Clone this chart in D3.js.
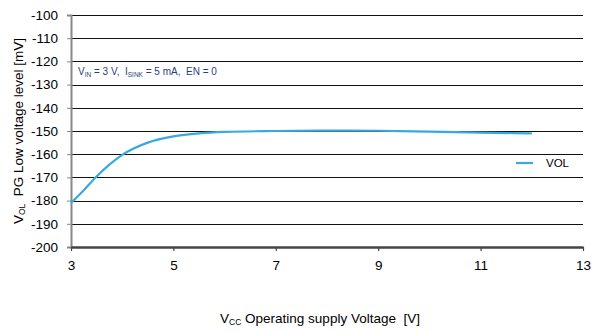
<!DOCTYPE html>
<html>
<head>
<meta charset="utf-8">
<script src="https://cdn.jsdelivr.net/npm/d3@7"></script>
<style>
  body { margin: 0; background: #fff; }
  text { font-family: "Liberation Sans", Arial, sans-serif; white-space: pre; }
</style>
</head>
<body>
<div id="chart"></div>
<script>
// VCC [V] vs VOL [mV]
const vcc = [3, 3.25, 3.5, 3.75, 4, 4.5, 5, 5.5, 6, 7, 8, 9, 10, 11, 12];
const vol = [-181, -175.5, -169.6, -164.5, -160.3, -155, -152.3, -151, -150.4, -150, -149.8, -149.9, -150.3, -150.7, -151];
const xTicks = [3, 5, 7, 9, 11, 13];
const yTicks = d3.range(-200, -99, 10);

const margin = {top: 15, right: 9, bottom: 84, left: 71},
  width = 592 - margin.left - margin.right,
  height = 331 - margin.top - margin.bottom;

const svg = d3.select("#chart").append("svg")
    .attr("width", 592)
    .attr("height", 331)
  .append("g")
    .attr("transform", "translate(" + margin.left + "," + margin.top + ")");

const x = d3.scaleLinear().domain([3, 13]).range([0, width]);
const y = d3.scaleLinear().domain([-200, -100]).range([height, 0]);

// horizontal grid
svg.append("g")
  .selectAll("line")
  .data(yTicks.filter(d => d > -200))
  .enter().append("line")
    .attr("x1", 0)
    .attr("x2", width)
    .attr("y1", d => Math.round(y(d)) + 0.5)
    .attr("y2", d => Math.round(y(d)) + 0.5)
    .attr("stroke", "#111")
    .attr("stroke-width", 1);

// y axis (plain hyphen minus like the original)
const yAxis = svg.append("g")
    .call(d3.axisLeft(y).tickValues(yTicks).tickSize(4).tickPadding(9).tickFormat(d => String(d)));
yAxis.select(".domain").attr("stroke", "#888").attr("stroke-width", 2);
yAxis.selectAll(".tick line").attr("stroke", "#888");
yAxis.selectAll("text").attr("font-size", 13.5).attr("fill", "#000")
  .attr("font-family", "Liberation Sans, Arial, sans-serif");

// x axis
const xAxis = svg.append("g")
    .attr("transform", "translate(0," + height + ")")
    .call(d3.axisBottom(x).tickValues(xTicks).tickSize(4).tickPadding(9).tickSizeOuter(0));
xAxis.select(".domain").attr("stroke", "#444").attr("stroke-width", 2.5);
xAxis.selectAll(".tick line").attr("stroke", "#444").attr("stroke-width", 1.2);
xAxis.selectAll("text").attr("font-size", 13.5).attr("fill", "#000")
  .attr("font-family", "Liberation Sans, Arial, sans-serif");

// the curve
const line = d3.line()
    .x((d, i) => x(vcc[i]))
    .y(d => y(d))
    .curve(d3.curveMonotoneX);

svg.append("path")
    .datum(vol)
    .attr("fill", "none")
    .attr("stroke", "#38a9de")
    .attr("stroke-width", 2.2)
    .attr("d", line);

// legend
const legend = svg.append("g").attr("transform", "translate(" + (516 - margin.left) + "," + (163 - margin.top) + ")");
legend.append("line")
    .attr("x1", 0).attr("x2", 17)
    .attr("stroke", "#38a9de").attr("stroke-width", 2.2);
legend.append("text")
    .attr("x", 30).attr("y", 4)
    .attr("font-size", 11.5)
    .text("VOL");

// conditions note
const note = svg.append("text")
    .attr("x", 78 - margin.left)
    .attr("y", 75 - margin.top)
    .attr("font-size", 10)
    .attr("fill", "#2b3f78");
note.append("tspan").text("V");
note.append("tspan").attr("font-size", 6.5).attr("dy", 1.5).text("IN");
note.append("tspan").attr("dy", -1.5).text(" = 3 V,  I");
note.append("tspan").attr("font-size", 6.5).attr("dy", 1.5).text("SINK");
note.append("tspan").attr("dy", -1.5).text(" = 5 mA,  EN = 0");

// y label
const yl = svg.append("text")
    .attr("transform", "translate(" + (23 - margin.left) + "," + (131 - margin.top) + ") rotate(-90)")
    .attr("text-anchor", "middle")
    .attr("font-size", 13.5);
yl.append("tspan").text("V");
yl.append("tspan").attr("font-size", 8.5).attr("dy", 2).text("OL");
yl.append("tspan").attr("dy", -2).text("  PG Low voltage level [mV]");

// x label
const xl = svg.append("text")
    .attr("x", 320 - margin.left)
    .attr("y", 323 - margin.top)
    .attr("text-anchor", "middle")
    .attr("font-size", 13.5);
xl.append("tspan").text("V");
xl.append("tspan").attr("font-size", 8.5).attr("dy", 2).text("CC");
xl.append("tspan").attr("dy", -2).text(" Operating supply Voltage  [V]");
</script>
</body>
</html>
